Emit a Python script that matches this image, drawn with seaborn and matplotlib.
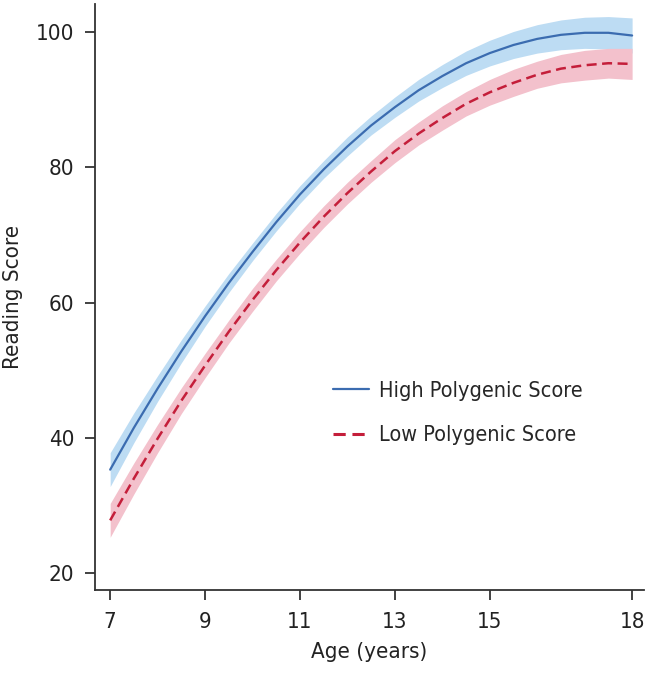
import numpy as np
import pandas as pd
import matplotlib
matplotlib.use("Agg")
import matplotlib.pyplot as plt
import seaborn as sns

# ages in half-year steps
ages = [7.0, 7.5, 8.0, 8.5, 9.0, 9.5, 10.0, 10.5, 11.0, 11.5, 12.0, 12.5,
        13.0, 13.5, 14.0, 14.5, 15.0, 15.5, 16.0, 16.5, 17.0, 17.5, 18.0]

high_score = [35.3, 41.5, 47.3, 52.8, 58.0, 62.9, 67.5, 71.9, 76.0, 79.7, 83.1, 86.2,
              88.9, 91.4, 93.5, 95.4, 96.9, 98.1, 99.0, 99.6, 99.9, 99.9, 99.5]
high_ci = [2.5, 2.2, 1.9, 1.7, 1.5, 1.4, 1.3, 1.3, 1.3, 1.3, 1.4, 1.4,
           1.5, 1.6, 1.7, 1.8, 1.9, 2.0, 2.1, 2.2, 2.3, 2.4, 2.6]

low_score = [27.8, 34.0, 39.9, 45.5, 50.7, 55.7, 60.4, 64.8, 68.9, 72.7, 76.2, 79.4,
             82.4, 85.0, 87.3, 89.4, 91.1, 92.5, 93.7, 94.6, 95.1, 95.4, 95.3]
low_ci = [2.5, 2.3, 2.1, 1.9, 1.8, 1.7, 1.7, 1.6, 1.6, 1.6, 1.6, 1.6,
          1.7, 1.7, 1.8, 1.8, 1.9, 2.0, 2.0, 2.1, 2.2, 2.2, 2.3]

groups = ["High Polygenic Score", "Low Polygenic Score"]
x_ticks = [7, 9, 11, 13, 15, 18]
y_ticks = [20, 40, 60, 80, 100]

line_colors = {groups[0]: "#3b6cb0", groups[1]: "#c41e3a"}
band_colors = {groups[0]: "#bddcf3", groups[1]: "#f3c1cc"}

sns.set_style("ticks")
plt.rcParams["font.family"] = ["DejaVu Sans"]
plt.rcParams["font.stretch"] = "condensed"
plt.rcParams["axes.edgecolor"] = "#333333"

df = pd.concat([
    pd.DataFrame({"age": ages, "score": high_score, "ci": high_ci, "group": groups[0]}),
    pd.DataFrame({"age": ages, "score": low_score, "ci": low_ci, "group": groups[1]}),
], ignore_index=True)

fig = plt.figure(figsize=(6.52, 6.77), dpi=100)
ax = fig.add_axes([0.1457, 0.1285, 0.842, 0.866])

# confidence bands
for g in groups:
    sub = df[df["group"] == g]
    ax.fill_between(sub["age"], sub["score"] - sub["ci"], sub["score"] + sub["ci"],
                    color=band_colors[g], linewidth=0, zorder=1)

sns.lineplot(data=df, x="age", y="score", hue="group", style="group",
             palette=line_colors, dashes={groups[0]: "", groups[1]: (4, 2.2)},
             ax=ax, zorder=3)
ax.lines[0].set_linewidth(1.6)
ax.lines[1].set_linewidth(1.8)

ax.set_xlim(6.68, 18.25)
ax.set_ylim(17.5, 104.2)
ax.set_xticks(x_ticks)
ax.set_yticks(y_ticks)
ax.tick_params(labelsize=16, length=7, width=1.3, colors="#333333", labelcolor="#222222")
ax.tick_params(axis="x", pad=9)
ax.tick_params(axis="y", pad=8)
for s in ["left", "bottom"]:
    ax.spines[s].set_linewidth(1.3)
sns.despine(ax=ax)

ax.set_xlabel("Age (years)", fontsize=16, color="#222222", labelpad=7)
ax.set_ylabel("Reading Score", fontsize=16, color="#222222", labelpad=9)

leg = ax.legend(loc="upper left", bbox_to_anchor=(0.398, 0.39), frameon=False,
                fontsize=15.5, handlelength=1.7, handletextpad=0.45, labelspacing=1.15)
leg.get_lines()[0].set_linewidth(1.6)
leg.get_lines()[1].set_linewidth(2.2)

fig.savefig("out.png", dpi=100)
